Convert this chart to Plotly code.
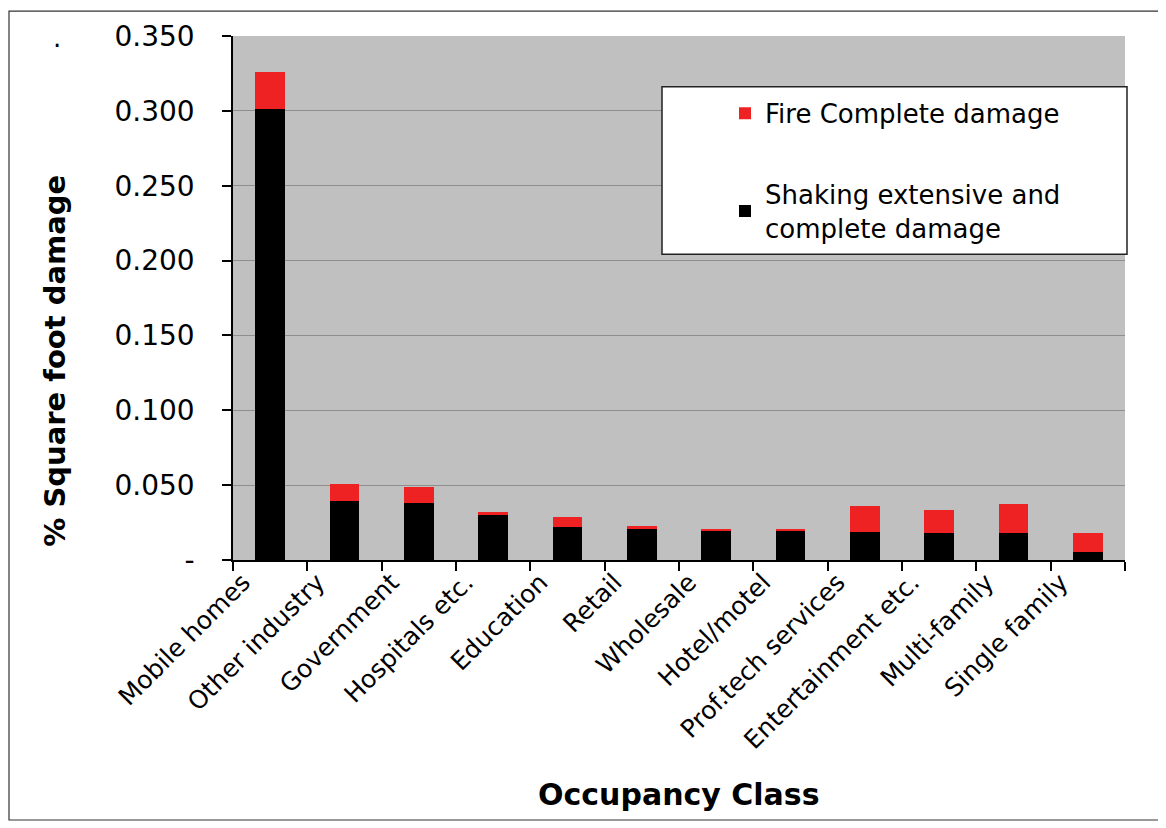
import plotly.graph_objects as go

categories = ["Mobile homes", "Other industry", "Government", "Hospitals etc.", "Education",
              "Retail", "Wholesale", "Hotel/motel", "Prof.tech services", "Entertainment etc.",
              "Multi-family", "Single family"]
shaking = [0.301, 0.0395, 0.0378, 0.0307, 0.0222, 0.0207, 0.0196, 0.0196, 0.0187, 0.0178, 0.0178, 0.0051]
total = [0.326, 0.0507, 0.0485, 0.0318, 0.0285, 0.0227, 0.0204, 0.0206, 0.0360, 0.0333, 0.0373, 0.0178]
fire = [round(t - s, 4) for t, s in zip(total, shaking)]

y_tickvals = [0, 0.05, 0.10, 0.15, 0.20, 0.25, 0.30, 0.35]
y_ticktext = ["-", "0.050", "0.100", "0.150", "0.200", "0.250", "0.300", "0.350"]

xpos = list(range(len(categories)))
x_tickvals = [i - 0.5 for i in range(len(categories) + 1)]
x_ticktext = categories + [""]

FONT = "DejaVu Sans, Liberation Sans, Arial, sans-serif"

# reference-pixel -> paper helpers (plot area in reference: x 233..1125, y 34..560)
def px(x):
    return (x - 233) / 892

def py(y):
    return (560 - y) / 526

fig = go.Figure()
fig.add_trace(go.Bar(x=xpos, y=shaking, name="Shaking extensive and<br>complete damage",
                     marker=dict(color="#000000", line=dict(width=0)), width=0.4,
                     legendgroup="b", legendrank=2))
fig.add_trace(go.Bar(x=xpos, y=fire, name="Fire Complete damage",
                     marker=dict(color="#EE2222", line=dict(width=0)), width=0.4,
                     legendgroup="a", legendrank=1))

# the page adds an 8px body margin, so the figure is 8px smaller and shifted accordingly
fig.update_layout(
    barmode="stack",
    width=1158, height=820,
    margin=dict(l=225, r=41, t=26, b=268),
    paper_bgcolor="white",
    plot_bgcolor="#C0C0C0",
    font=dict(family=FONT, color="black"),
    showlegend=True,
    legend=dict(x=px(725), y=py(88), xanchor="left", yanchor="top",
                bgcolor="rgba(0,0,0,0)", borderwidth=0,
                traceorder="grouped", tracegroupgap=44,
                font=dict(size=26, family=FONT), itemwidth=30),
    xaxis=dict(range=[-0.5, 11.5], tickmode="array", tickvals=x_tickvals, ticktext=x_ticktext,
               tickangle=-45, tickfont=dict(size=25, family=FONT), showgrid=False, zeroline=False,
               showline=True, linecolor="black", linewidth=1.5, ticks="outside", ticklen=9,
               tickcolor="black", tickwidth=1.5, ticklabelshift=10, ticklabelstandoff=-13),
    yaxis=dict(range=[0, 0.35], tickmode="array", tickvals=y_tickvals, ticktext=y_ticktext,
               tickfont=dict(size=28, family=FONT), showgrid=True, gridcolor="#8E8E8E", gridwidth=1,
               zeroline=False, showline=True, linecolor="black", linewidth=1.5,
               ticks="outside", ticklen=9, tickcolor="black", tickwidth=1.5,
               ticklabelstandoff=22),
    shapes=[
        dict(type="rect", xref="paper", yref="paper", x0=px(662), x1=px(1127), y0=py(253), y1=py(85),
             fillcolor="white", line=dict(color="#222222", width=1.5), layer="above"),
        dict(type="rect", xref="paper", yref="paper", x0=px(9), x1=px(1161),
             y0=py(821), y1=py(9), fillcolor="rgba(0,0,0,0)",
             line=dict(color="#333333", width=1.2), layer="below"),
    ],
    annotations=[
        dict(text="<b>% Square foot damage</b>", xref="paper", yref="paper",
             x=px(55), y=py(360), textangle=-90, showarrow=False,
             font=dict(size=29, family=FONT), xanchor="center", yanchor="middle"),
        dict(text="<b>Occupancy Class</b>", xref="paper", yref="paper",
             x=px(679), y=py(795), showarrow=False,
             font=dict(size=30, family=FONT), xanchor="center", yanchor="middle"),
        dict(text=".", xref="paper", yref="paper", x=px(57), y=py(36),
             showarrow=False, font=dict(size=26, family=FONT), xanchor="center", yanchor="middle"),
    ],
)

fig.write_html("out.html")
